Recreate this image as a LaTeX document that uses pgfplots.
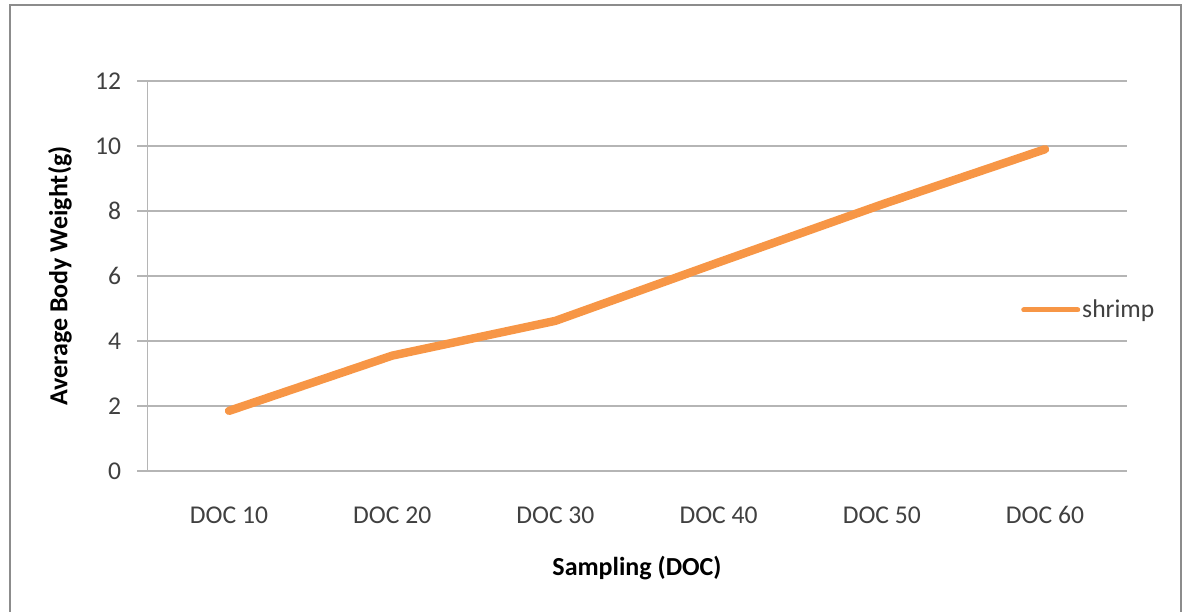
\documentclass[border=0pt]{standalone}
\usepackage{pgfplots}
\pgfplotsset{compat=1.18}
\usepackage{fontspec}
\setmainfont{Carlito}

\definecolor{shrimp}{HTML}{F79646}
\definecolor{gridgray}{HTML}{B5B5B5}
\definecolor{framegray}{HTML}{8C8C8C}
\definecolor{ticktext}{HTML}{404040}

\begin{document}
\begin{tikzpicture}
  \useasboundingbox (0pt,0pt) rectangle (594.5pt,305.5pt);
  % chart area frame
  \draw[framegray, line width=1pt] (4.75pt,303pt) rectangle (590.5pt,-5pt);
  \begin{axis}[
    at={(73.7pt,70pt)}, anchor=south west,
    scale only axis,
    width=489.6pt, height=195pt,
    xmin=-0.5, xmax=5.5,
    ymin=0, ymax=12,
    xtick={0,...,5},
    xticklabels={DOC 10,DOC 20,DOC 30,DOC 40,DOC 50,DOC 60},
    ytick={0,2,...,12},
    axis lines=left,
    axis line style={gridgray, line width=0.75pt, -},
    ymajorgrids,
    grid style={gridgray, line width=0.75pt},
    tick align=outside,
    major tick length=5pt,
    xtick style={draw=none},
    ytick style={gridgray, line width=0.75pt},
    /pgf/number format/assume math mode=true,
    ticklabel style={font=\fontsize{12.8}{15}\selectfont, text=ticktext},
    yticklabel style={anchor=east, inner sep=0pt, xshift=-8pt},
    xticklabel style={anchor=base, inner sep=0pt, yshift=-21pt},
    xlabel={\textbf{Sampling (DOC)}},
    ylabel={\textbf{Average Body Weight(g)}},
    xlabel style={at={(axis description cs:0.5,-0.2487)}, anchor=center, font=\fontsize{13}{15}\selectfont},
    ylabel style={at={(axis description cs:-0.0893,0.5)}, anchor=center, font=\fontsize{13}{15}\selectfont},
    legend style={at={(axis description cs:0.892,0.413)}, anchor=west,
      draw=none, fill=none, inner sep=0pt,
      font=\fontsize{12.8}{15}\selectfont, text=ticktext,
      nodes={inner sep=1pt}},
    legend image code/.code={\draw[shrimp, line width=2.5pt] (0pt,0pt) -- (27pt,0pt);},
  ]
    \addplot[shrimp, line width=4.2pt, line join=round, line cap=round]
      coordinates {(0,1.85) (1,3.55) (2,4.62) (3,6.42) (4,8.2) (5,9.9)};
    \addlegendentry{shrimp}
  \end{axis}
\end{tikzpicture}
\end{document}
